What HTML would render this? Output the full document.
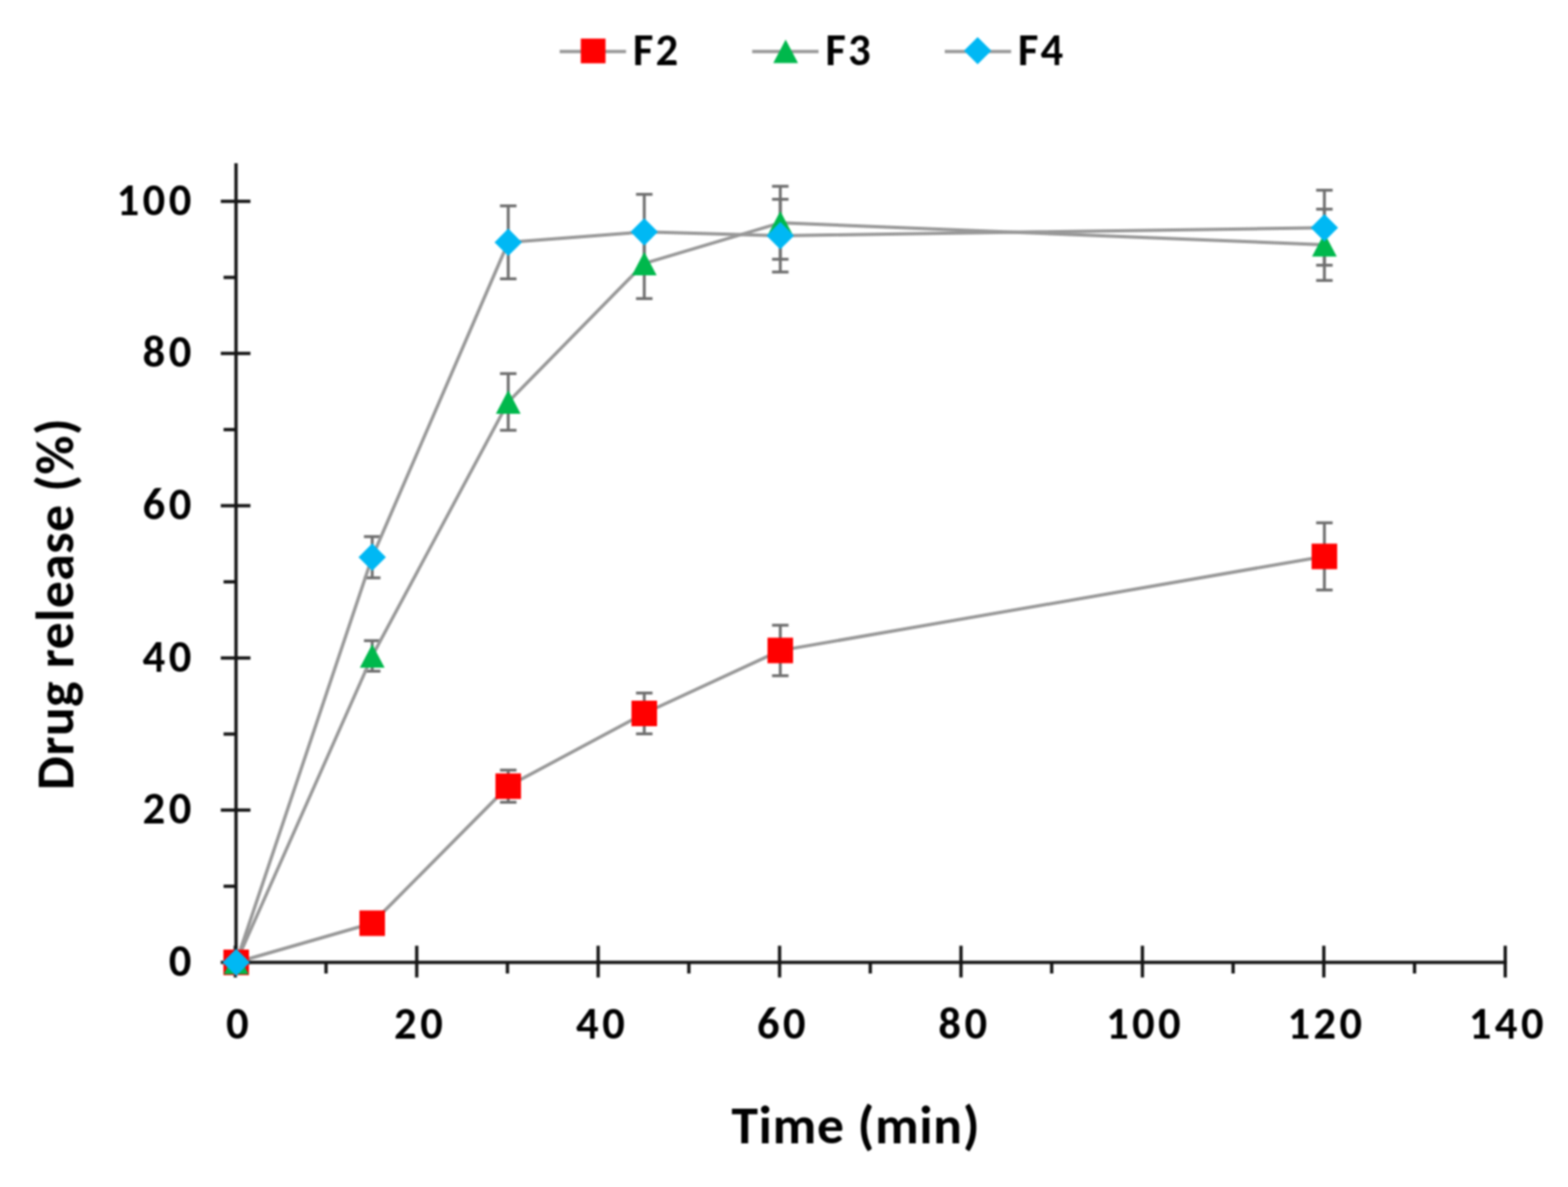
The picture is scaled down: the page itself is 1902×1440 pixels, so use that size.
<!DOCTYPE html>
<html><head><meta charset="utf-8"><title>Drug release chart</title>
<style>
html,body{margin:0;padding:0;background:#fff;}
body{width:1902px;height:1440px;overflow:hidden;}
svg{display:block;filter:blur(0.9px);}
text{font-family:Carlito, 'Liberation Sans', sans-serif;font-weight:bold;fill:#000;}
</style></head><body>
<svg width="1902" height="1440" viewBox="0 0 1902 1440">
<rect width="1902" height="1440" fill="#fff"/>
<line x1="678.9" y1="62.4" x2="759.4" y2="62.4" stroke="#989898" stroke-width="4.0"/>
<rect x="704.5" y="46.8" width="30" height="30" fill="#ff0000"/>
<text x="767.63" y="79" font-size="54" textLength="54.95" lengthAdjust="spacing">F2</text>
<line x1="912.4" y1="62.4" x2="992.9" y2="62.4" stroke="#989898" stroke-width="4.0"/>
<path d="M953 47.9L968 76.5L938 76.5Z" fill="#00b84c"/>
<text x="1001.13" y="79" font-size="54" textLength="54.95" lengthAdjust="spacing">F3</text>
<line x1="1146" y1="62.4" x2="1226.5" y2="62.4" stroke="#989898" stroke-width="4.0"/>
<path d="M1185.9 44.9L1202.5 61.5L1185.9 78.1L1169.3 61.5Z" fill="#00b8f4"/>
<text x="1234.73" y="79" font-size="54" textLength="54.95" lengthAdjust="spacing">F4</text>
<g stroke="#141414" stroke-width="4.0"><line x1="286.3" y1="198" x2="286.3" y2="1169.5"/><line x1="283.8" y1="1167.5" x2="1827.9" y2="1167.5"/><line x1="267.8" y1="1167.5" x2="303.8" y2="1167.5"/><line x1="267.8" y1="982.84" x2="303.8" y2="982.84"/><line x1="267.8" y1="798.18" x2="303.8" y2="798.18"/><line x1="267.8" y1="613.52" x2="303.8" y2="613.52"/><line x1="267.8" y1="428.86" x2="303.8" y2="428.86"/><line x1="267.8" y1="244.2" x2="303.8" y2="244.2"/><line x1="271.2" y1="1075.17" x2="286" y2="1075.17"/><line x1="271.2" y1="890.51" x2="286" y2="890.51"/><line x1="271.2" y1="705.85" x2="286" y2="705.85"/><line x1="271.2" y1="521.19" x2="286" y2="521.19"/><line x1="271.2" y1="336.53" x2="286" y2="336.53"/><line x1="285.45" y1="1147.3" x2="285.45" y2="1185.8"/><line x1="505.51" y1="1147.3" x2="505.51" y2="1185.8"/><line x1="725.57" y1="1147.3" x2="725.57" y2="1185.8"/><line x1="945.63" y1="1147.3" x2="945.63" y2="1185.8"/><line x1="1165.69" y1="1147.3" x2="1165.69" y2="1185.8"/><line x1="1385.75" y1="1147.3" x2="1385.75" y2="1185.8"/><line x1="1605.81" y1="1147.3" x2="1605.81" y2="1185.8"/><line x1="1825.87" y1="1147.3" x2="1825.87" y2="1185.8"/><line x1="395.48" y1="1167" x2="395.48" y2="1181"/><line x1="615.54" y1="1167" x2="615.54" y2="1181"/><line x1="835.6" y1="1167" x2="835.6" y2="1181"/><line x1="1055.66" y1="1167" x2="1055.66" y2="1181"/><line x1="1275.72" y1="1167" x2="1275.72" y2="1181"/><line x1="1495.78" y1="1167" x2="1495.78" y2="1181"/><line x1="1715.84" y1="1167" x2="1715.84" y2="1181"/></g>
<text x="204.64" y="1183.92" font-size="54" textLength="27.37" lengthAdjust="spacing">0</text>
<text x="173.07" y="999.26" font-size="54" textLength="58.94" lengthAdjust="spacing">20</text>
<text x="173.07" y="814.6" font-size="54" textLength="58.94" lengthAdjust="spacing">40</text>
<text x="173.07" y="629.94" font-size="54" textLength="58.94" lengthAdjust="spacing">60</text>
<text x="173.07" y="445.28" font-size="54" textLength="58.94" lengthAdjust="spacing">80</text>
<text x="141.5" y="260.62" font-size="54" textLength="90.51" lengthAdjust="spacing">100</text>
<text x="274.17" y="1260" font-size="54" textLength="27.37" lengthAdjust="spacing">0</text>
<text x="478.08" y="1260" font-size="54" textLength="58.94" lengthAdjust="spacing">20</text>
<text x="698.86" y="1260" font-size="54" textLength="58.94" lengthAdjust="spacing">40</text>
<text x="918.23" y="1260" font-size="54" textLength="58.94" lengthAdjust="spacing">60</text>
<text x="1138.37" y="1260" font-size="54" textLength="58.94" lengthAdjust="spacing">80</text>
<text x="1341.64" y="1260" font-size="54" textLength="90.51" lengthAdjust="spacing">100</text>
<text x="1561.7" y="1260" font-size="54" textLength="90.51" lengthAdjust="spacing">120</text>
<text x="1781.76" y="1260" font-size="54" textLength="90.51" lengthAdjust="spacing">140</text>
<text x="887.13" y="1387.3" font-size="65" textLength="301.03" lengthAdjust="spacing">Time (min)</text>
<text x="0" y="0" font-size="65" textLength="451" lengthAdjust="spacing" transform="translate(89.3 958.38) rotate(-90)">Drug release (%)</text>
<g stroke="#6e6e6e" stroke-width="3.5" fill="none"><path d="M451.5 1111V1129M441.5 1111H461.5M441.5 1129H461.5"/><path d="M616.5 934.25V973.25M606.5 934.25H626.5M606.5 973.25H626.5"/><path d="M781.5 840.8V890.2M771.5 840.8H791.5M771.5 890.2H791.5"/><path d="M946.5 758.5V819.7M936.5 758.5H956.5M936.5 819.7H956.5"/><path d="M1606.5 634.3V715.7M1596.5 634.3H1616.5M1596.5 715.7H1616.5"/><path d="M451.5 777.35V814.25M441.5 777.35H461.5M441.5 814.25H461.5"/><path d="M616.5 453.2V522M606.5 453.2H626.5M606.5 522H626.5"/><path d="M781.5 277.2V362.2M771.5 277.2H791.5M771.5 362.2H791.5"/><path d="M946.5 226V314.6M936.5 226H956.5M936.5 314.6H956.5"/><path d="M1606.5 253.8V340.2M1596.5 253.8H1616.5M1596.5 340.2H1616.5"/><path d="M451.5 650.9V700.9M441.5 650.9H461.5M441.5 700.9H461.5"/><path d="M616.5 249.65V338.15M606.5 249.65H626.5M606.5 338.15H626.5"/><path d="M781.5 235.7V326.9M771.5 235.7H791.5M771.5 326.9H791.5"/><path d="M946.5 241.7V330.1M936.5 241.7H956.5M936.5 330.1H956.5"/><path d="M1606.5 230.8V321.8M1596.5 230.8H1616.5M1596.5 321.8H1616.5"/></g>
<polyline points="286.5,1167.5 451.5,1120 616.5,953.75 781.5,865.5 946.5,789.1 1606.5,675" fill="none" stroke="#989898" stroke-width="4.0" stroke-linejoin="round"/>
<polyline points="286.5,1167.5 451.5,795.8 616.5,487.6 781.5,319.7 946.5,270.3 1606.5,297" fill="none" stroke="#989898" stroke-width="4.0" stroke-linejoin="round"/>
<polyline points="286.5,1167.5 451.5,675.9 616.5,293.9 781.5,281.3 946.5,285.9 1606.5,276.3" fill="none" stroke="#989898" stroke-width="4.0" stroke-linejoin="round"/>
<rect x="271" y="1152" width="31" height="31" fill="#ff0000"/>
<rect x="436" y="1104.5" width="31" height="31" fill="#ff0000"/>
<rect x="601" y="938.25" width="31" height="31" fill="#ff0000"/>
<rect x="766" y="850" width="31" height="31" fill="#ff0000"/>
<rect x="931" y="773.6" width="31" height="31" fill="#ff0000"/>
<rect x="1591" y="659.5" width="31" height="31" fill="#ff0000"/>
<path d="M286.5 1153.2L301.5 1181.8L271.5 1181.8Z" fill="#00b84c"/>
<path d="M451.5 781.5L466.5 810.1L436.5 810.1Z" fill="#00b84c"/>
<path d="M616.5 473.3L631.5 501.9L601.5 501.9Z" fill="#00b84c"/>
<path d="M781.5 305.4L796.5 334L766.5 334Z" fill="#00b84c"/>
<path d="M946.5 256L961.5 284.6L931.5 284.6Z" fill="#00b84c"/>
<path d="M1606.5 282.7L1621.5 311.3L1591.5 311.3Z" fill="#00b84c"/>
<path d="M286.5 1150.9L303.1 1167.5L286.5 1184.1L269.9 1167.5Z" fill="#00b8f4"/>
<path d="M451.5 659.3L468.1 675.9L451.5 692.5L434.9 675.9Z" fill="#00b8f4"/>
<path d="M616.5 277.3L633.1 293.9L616.5 310.5L599.9 293.9Z" fill="#00b8f4"/>
<path d="M781.5 264.7L798.1 281.3L781.5 297.9L764.9 281.3Z" fill="#00b8f4"/>
<path d="M946.5 269.3L963.1 285.9L946.5 302.5L929.9 285.9Z" fill="#00b8f4"/>
<path d="M1606.5 259.7L1623.1 276.3L1606.5 292.9L1589.9 276.3Z" fill="#00b8f4"/>
</svg>
</body></html>
